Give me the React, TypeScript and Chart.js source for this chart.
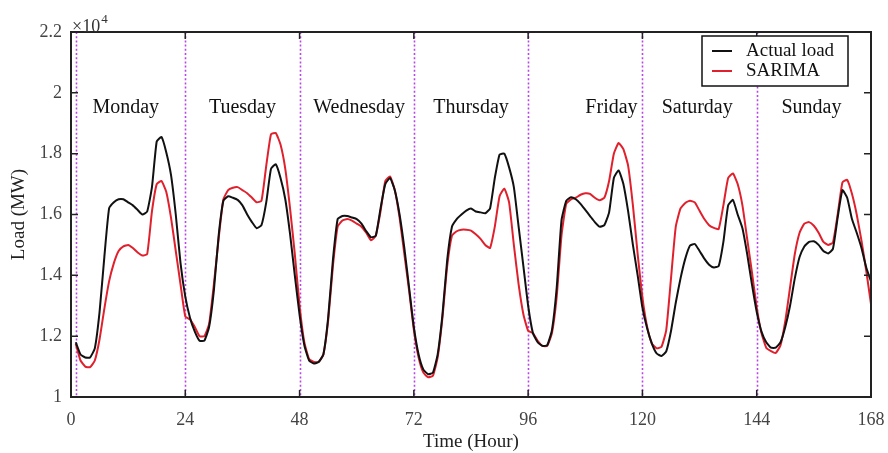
import React, { useEffect, useRef } from "react";
import { Chart, registerables } from "chart.js";

Chart.register(...registerables);

// ---- data ----
const hours: number[] = Array.from({ length: 168 }, (_, i) => i + 1);

const actualLoad: number[] = [
  // Monday
  11800, 11400, 11300, 11300, 11600, 12800, 14600, 16200, 16400, 16500, 16500, 16400,
  16300, 16150, 16000, 16100, 16900, 18400, 18550, 18050, 17300, 16000, 14400, 13300,
  // Tuesday
  12600, 12150, 11850, 11850, 12300, 13500, 15300, 16450, 16600, 16550, 16480, 16300,
  16000, 15750, 15550, 15650, 16400, 17500, 17650, 17200, 16500, 15360, 14000, 12700,
  // Wednesday
  11700, 11200, 11100, 11150, 11400, 12600, 14500, 15850, 15950, 15950, 15900, 15850,
  15700, 15450, 15250, 15300, 16200, 17000, 17200, 16800, 16000, 14900, 13600, 12300,
  // Thursday
  11400, 10900, 10750, 10800, 11400, 12700, 14500, 15600, 15850, 16000, 16130, 16200,
  16100, 16070, 16040, 16200, 17200, 17970, 18000, 17550, 16900, 15600, 14300, 13000,
  // Friday
  12100, 11800, 11680, 11700, 12200, 13600, 15800, 16450, 16570, 16500, 16350, 16150,
  15950, 15750, 15600, 15650, 16070, 17200, 17450, 17000, 16100, 15000, 14000, 12940,
  // Saturday
  12250, 11750, 11430, 11350, 11500, 12170, 13100, 13900, 14550, 14980, 15030, 14800,
  14550, 14350, 14260, 14300, 15100, 16300, 16480, 16000, 15550, 14700, 13700, 12800,
  // Sunday
  12150, 11800, 11620, 11620, 11800, 12300, 13000, 13900, 14600, 14950, 15100, 15120,
  15000, 14800, 14720, 14870, 15900, 16800, 16550, 15850, 15400, 14900, 14260, 13800,
];

const sarimaLoad: number[] = [
  // Monday
  11750, 11200, 11000, 10980, 11200, 11900, 12900, 13800, 14400, 14800, 14950, 15000,
  14900, 14750, 14650, 14700, 16100, 17000, 17100, 16750, 15900, 14800, 13700, 12650,
  // Tuesday
  12550, 12300, 12000, 12000, 12400, 13700, 15200, 16500, 16800, 16880, 16900, 16800,
  16700, 16550, 16400, 16450, 17600, 18640, 18680, 18300, 17500, 16200, 14700, 13000,
  // Wednesday
  11800, 11250, 11150, 11150, 11400, 12500, 14300, 15600, 15800, 15850, 15800, 15700,
  15600, 15400, 15150, 15300, 16100, 17100, 17250, 16800, 15900, 14700, 13500, 12200,
  // Thursday
  11300, 10800, 10650, 10700, 11300, 12600, 14300, 15300, 15450, 15500, 15500, 15470,
  15350, 15200, 15000, 14900, 15600, 16600, 16850, 16400, 15000, 13700, 12720, 12180,
  // Friday
  12100, 11850, 11680, 11680, 12100, 13300, 15300, 16350, 16500, 16550, 16650, 16700,
  16680, 16550, 16470, 16550, 17100, 18000, 18350, 18150, 17600, 16300, 14700, 13270,
  // Saturday
  12300, 11750, 11600, 11650, 12200, 13900, 15600, 16200, 16380, 16450, 16400, 16120,
  15850, 15650, 15560, 15520, 16300, 17200, 17350, 17000, 16300, 15200, 14100, 12950,
  // Sunday
  12100, 11620, 11510, 11450, 11700, 12500, 13600, 14700, 15400, 15700, 15750, 15630,
  15400, 15100, 15000, 15080, 16000, 17050, 17140, 16680, 16000, 15140, 14150, 13050,
];

const xTickValues: number[] = [0, 24, 48, 72, 96, 120, 144, 168];
const yTickValues: number[] = [10000, 12000, 14000, 16000, 18000, 20000, 22000];
const dayBoundaries: number[] = [1, 24, 48, 72, 96, 120, 144];
const dayNames: string[] = ["Monday", "Tuesday", "Wednesday", "Thursday", "Friday", "Saturday", "Sunday"];
const dayLabelHours: number[] = [11.5, 36, 60.5, 84, 113.5, 131.5, 155.5];
const seriesNames: string[] = ["Actual load", "SARIMA"];
const seriesColors: string[] = ["#111111", "#e0202c"];

const SERIF = "'Liberation Serif', 'Times New Roman', serif";

export default function App() {
  const canvasRef = useRef<HTMLCanvasElement>(null);

  useEffect(() => {
    const canvas = canvasRef.current;
    if (!canvas) return;

    const overlay = {
      id: "overlay",
      beforeDatasetsDraw(chart: any) {
        const { ctx, chartArea: ca, scales } = chart;
        const xs = scales.x;
        ctx.save();
        ctx.strokeStyle = "#b846e6";
        ctx.lineWidth = 1.6;
        ctx.setLineDash([2, 2.2]);
        dayBoundaries.forEach((h) => {
          const x = Math.round(xs.getPixelForValue(h)) + 0.5;
          ctx.beginPath();
          ctx.moveTo(x, ca.top);
          ctx.lineTo(x, ca.bottom);
          ctx.stroke();
        });
        ctx.restore();
      },
      afterDraw(chart: any) {
        const { ctx, chartArea: ca, scales } = chart;
        const xs = scales.x;
        const ys = scales.y;
        ctx.save();
        // frame
        ctx.strokeStyle = "#222";
        ctx.lineWidth = 2;
        ctx.setLineDash([]);
        ctx.strokeRect(ca.left, ca.top, ca.right - ca.left, ca.bottom - ca.top);
        // inward ticks
        ctx.lineWidth = 1.5;
        const tl = 7;
        yTickValues.forEach((v) => {
          const y = ys.getPixelForValue(v);
          ctx.beginPath();
          ctx.moveTo(ca.left, y);
          ctx.lineTo(ca.left + tl, y);
          ctx.moveTo(ca.right, y);
          ctx.lineTo(ca.right - tl, y);
          ctx.stroke();
        });
        xTickValues.forEach((v) => {
          const x = xs.getPixelForValue(v);
          ctx.beginPath();
          ctx.moveTo(x, ca.bottom);
          ctx.lineTo(x, ca.bottom - tl);
          ctx.moveTo(x, ca.top);
          ctx.lineTo(x, ca.top + tl);
          ctx.stroke();
        });
        // exponent label
        ctx.fillStyle = "#333";
        ctx.textAlign = "left";
        ctx.textBaseline = "alphabetic";
        ctx.font = `18px ${SERIF}`;
        ctx.fillText("\u00d710", ca.left + 1, ca.top);
        const w = ctx.measureText("\u00d710").width;
        ctx.font = `13px ${SERIF}`;
        ctx.fillText("4", ca.left + 1 + w + 1, ca.top - 9);
        // day labels
        ctx.fillStyle = "#111";
        ctx.textAlign = "center";
        ctx.font = `20px ${SERIF}`;
        dayNames.forEach((name, i) => {
          ctx.fillText(name, xs.getPixelForValue(dayLabelHours[i]), ca.top + 81);
        });
        // legend
        const lx = ca.right - 169;
        const ly = ca.top + 4;
        const lw = 146;
        const lh = 50;
        ctx.fillStyle = "#fff";
        ctx.fillRect(lx, ly, lw, lh);
        ctx.strokeStyle = "#111";
        ctx.lineWidth = 1.5;
        ctx.strokeRect(lx, ly, lw, lh);
        ctx.font = `19px ${SERIF}`;
        ctx.textAlign = "left";
        ctx.textBaseline = "middle";
        seriesNames.forEach((name, i) => {
          const yy = ly + 15 + i * 20;
          ctx.strokeStyle = seriesColors[i];
          ctx.lineWidth = 2;
          ctx.beginPath();
          ctx.moveTo(lx + 10, yy);
          ctx.lineTo(lx + 30, yy);
          ctx.stroke();
          ctx.fillStyle = "#111";
          ctx.fillText(name, lx + 44, yy);
        });
        ctx.restore();
      },
    };

    const chart = new Chart(canvas, {
      type: "line",
      data: {
        datasets: [
          {
            label: seriesNames[0],
            data: hours.map((h, i) => ({ x: h, y: actualLoad[i] })),
            borderColor: seriesColors[0],
            borderWidth: 2,
            pointRadius: 0,
            fill: false,
            tension: 0.15,
          },
          {
            label: seriesNames[1],
            data: hours.map((h, i) => ({ x: h, y: sarimaLoad[i] })),
            borderColor: seriesColors[1],
            borderWidth: 2,
            pointRadius: 0,
            fill: false,
            tension: 0.15,
          },
        ],
      },
      options: {
        responsive: false,
        animation: false,
        events: [],
        layout: { padding: { left: 0, right: 17, top: 32, bottom: 0 } },
        plugins: {
          legend: { display: false },
          tooltip: { enabled: false },
        },
        scales: {
          x: {
            type: "linear",
            min: 0,
            max: 168,
            afterBuildTicks: (scale: any) => {
              scale.ticks = xTickValues.map((v) => ({ value: v }));
            },
            grid: { display: false, drawTicks: false },
            border: { display: false },
            ticks: {
              padding: 12,
              maxRotation: 0,
              autoSkip: false,
              color: "#444",
              font: { family: SERIF, size: 18 },
            },
            title: {
              display: true,
              text: "Time (Hour)",
              color: "#222",
              font: { family: SERIF, size: 19 },
              padding: { top: 0, bottom: 0 },
            },
            afterFit: (scale: any) => {
              scale.height = 56;
              scale.paddingLeft = 0;
              scale.paddingRight = 0;
            },
          },
          y: {
            type: "linear",
            min: 10000,
            max: 22000,
            afterBuildTicks: (scale: any) => {
              scale.ticks = yTickValues.map((v) => ({ value: v }));
            },
            grid: { display: false, drawTicks: false },
            border: { display: false },
            ticks: {
              padding: 9,
              color: "#444",
              font: { family: SERIF, size: 18 },
              callback: (v: any) => String(Math.round(Number(v) / 1000) / 10),
            },
            title: {
              display: true,
              text: "Load (MW)",
              color: "#222",
              font: { family: SERIF, size: 19 },
              padding: { top: 8, bottom: 0 },
            },
            afterFit: (scale: any) => {
              scale.width = 71;
              scale.paddingTop = 0;
              scale.paddingBottom = 0;
            },
          },
        },
      },
      plugins: [overlay],
    } as any);

    return () => chart.destroy();
  }, []);

  return (
    <div style={{ position: "absolute", left: 0, top: 0, width: 888, height: 453, background: "#fff" }}>
      <canvas ref={canvasRef} width={888} height={453} style={{ display: "block" }} />
    </div>
  );
}
